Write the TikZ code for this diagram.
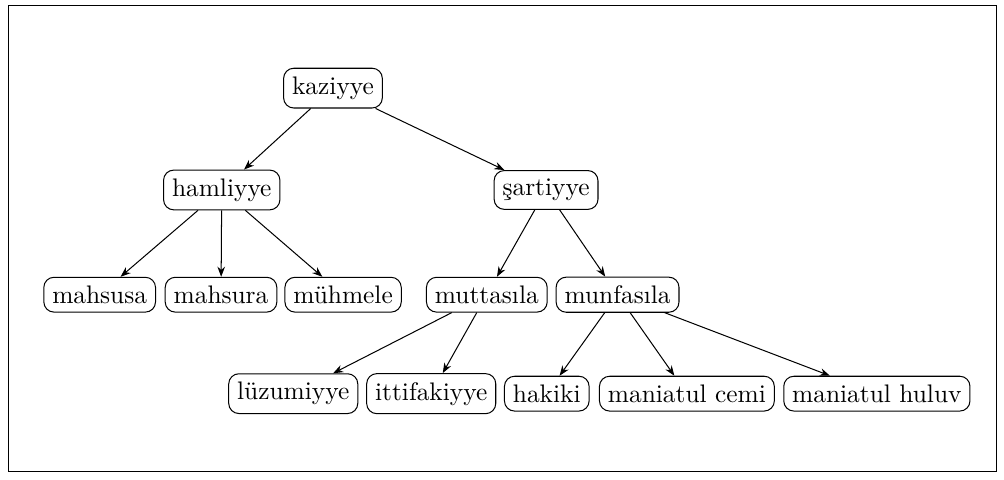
\documentclass[tikz,border=0pt]{standalone}
\usepackage{fontspec}
\usepackage{tikz}
\usetikzlibrary{positioning, arrows.meta}

\begin{document}
\begin{tikzpicture}[
  >={Stealth[length=4pt,width=3pt]},
  term/.style={draw, rounded corners=4pt, align=center},
  link/.style={->}
]

  % frame and bounding box
  \useasboundingbox (0,0) rectangle (13.90,-6.64);
  \node[draw, minimum width=13.68cm, minimum height=6.45cm, inner sep=0pt] (frame) at (6.96,-3.305) {};

  %---------------- LEVEL 0-1 ----------------%
  \node[term] (kaz) at (4.61,-1.22) {kaziyye};
  \node[term] (ham) at (3.07,-2.63) {hamliyye};
  \node[term] (sar) at (7.56,-2.63) {şartiyye};

  %---------------- LEVEL 2 ----------------%
  \node[term] (mahsusa) at (1.38,-4.08) {mahsusa};
  \node[term] (mahsura) at (3.06,-4.08) {mahsura};
  \node[term] (muhmele) at (4.75,-4.08) {mühmele};
  \node[term] (muttasila) at (6.74,-4.08) {muttasıla};
  \node[term] (munfasila) at (8.55,-4.08) {munfasıla};

  %---------------- LEVEL 3 ----------------%
  \node[term] (luzum) at (4.06,-5.45) {lüzumiyye};
  \node[term] (ittifak) at (5.97,-5.45) {ittifakiyye};
  \node[term] (hakiki) at (7.57,-5.45) {hakiki};
  \node[term] (cemi) at (9.51,-5.45) {maniatul cemi};
  \node[term] (huluv) at (12.14,-5.45) {maniatul huluv};

  \draw[link] (kaz) -- (ham);
  \draw[link] (kaz) -- (sar);
  \draw[link] (ham) -- (mahsusa);
  \draw[link] (ham) -- (mahsura);
  \draw[link] (ham) -- (muhmele);
  \draw[link] (sar) -- (muttasila);
  \draw[link] (sar) -- (munfasila);
  \draw[link] (muttasila) -- (luzum);
  \draw[link] (muttasila) -- (ittifak);
  \draw[link] (munfasila) -- (hakiki);
  \draw[link] (munfasila) -- (cemi);
  \draw[link] (munfasila) -- (huluv);

\end{tikzpicture}
\end{document}
